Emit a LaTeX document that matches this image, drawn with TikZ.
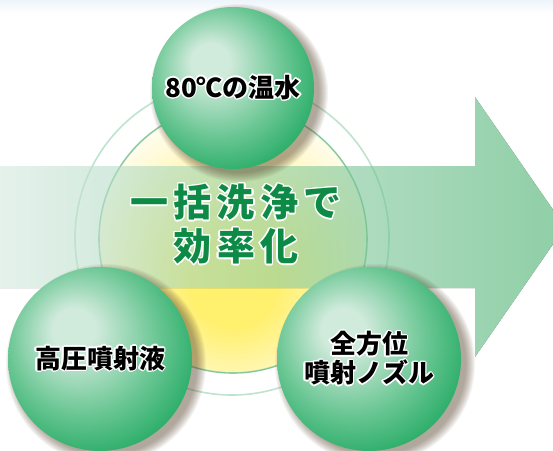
\documentclass[tikz,border=0pt]{standalone}
\usepackage{fontspec}
\usepackage[copies]{contour}
\newfontfamily\jp{Noto Sans CJK JP}
\contourlength{1.3pt}
\definecolor{ball-light}{HTML}{D0EADB}
\definecolor{ball-mid}{HTML}{6CC795}
\definecolor{ball-dark}{HTML}{20A961}
\definecolor{band-left}{HTML}{D4E9DF}
\definecolor{band-right}{HTML}{44AF6B}
\definecolor{glow-core}{HTML}{FFF06E}
\definecolor{glow-edge}{HTML}{FFFCEB}
\definecolor{ring-green}{HTML}{6FC493}
\definecolor{text-green}{HTML}{0E8A47}
\definecolor{shadow-brown}{HTML}{5A4530}
\definecolor{top-blue}{HTML}{EEF5FA}
\pgfdeclareradialshading{greenball}{\pgfpoint{-8bp}{9bp}}{color(0bp)=(ball-light); color(6bp)=(ball-light); color(20bp)=(ball-mid); color(32bp)=(ball-dark); color(50bp)=(ball-dark)}
\pgfdeclareradialshading{glow}{\pgfpoint{0bp}{-10bp}}{color(0bp)=(glow-core); color(8bp)=(glow-core); color(28bp)=(glow-edge); color(50bp)=(glow-edge)}

\begin{document}
\begin{tikzpicture}[x=1pt, y=-1pt,
    ball/.style={circle, shade, shading=greenball, inner sep=0pt, align=center,
      font=\jp\bfseries\fontsize{26}{29}\selectfont},
    claim/.style={align=center, text=text-green,
      font=\jp\bfseries\fontsize{38}{44}\selectfont\addfontfeatures{LetterSpace=14}},
    ring/.style={draw=ring-green, line width=1.6pt}]
        \useasboundingbox (0,0) rectangle (553,450);
        \clip (0,0) rectangle (553,450);
        % White page
        \fill [white] (0,0) rectangle (553,450);
        % Top strip
        \fill [top color=top-blue, bottom color=white] (0,0) rectangle (553,14);
        % Yellow glow
        \fill [shading=glow] (233,239) circle [radius=134pt];
        % Inner ring
        \draw [ring, opacity=0.75] (233,239) circle [radius=134pt];
        % Outer ring
        \draw [ring, opacity=0.45] (232,238) circle [radius=157pt];
        % Big arrow
        \begin{scope}[transparency group, opacity=0.6]
        \fill [left color=band-left, right color=band-right]
            (0,166) -- (475,166) -- (475,97) -- (565,227) -- (475,357) -- (475,288) -- (0,288) -- cycle;
        \end{scope}
        % Ball shadows
        \foreach \bx/\by/\br in {233/88/81, 100/359/92, 369/359/92}
            \foreach \k in {0,...,9}
                \fill [shadow-brown, opacity=0.06] (\bx+6,\by+5) circle [radius={(\br+8-\k)*1pt}];
        % 80C ball
        \node [ball, minimum size=162pt] (water) at (233,88) {\contour{white}{80℃の温水}};
        % Pressure ball
        \node [ball, minimum size=184pt] (pressure) at (100,359) {\contour{white}{高圧噴射液}};
        % Nozzle ball
        \node [ball, minimum size=184pt] (nozzle) at (369,359)
            {\contour{white}{全方位}\\\contour{white}{噴射ノズル}};
        % Center text
        \node [claim] (effect) at (236,225) {\contour{white}{一括洗浄で}\\\contour{white}{効率化}};
\end{tikzpicture}
\end{document}
